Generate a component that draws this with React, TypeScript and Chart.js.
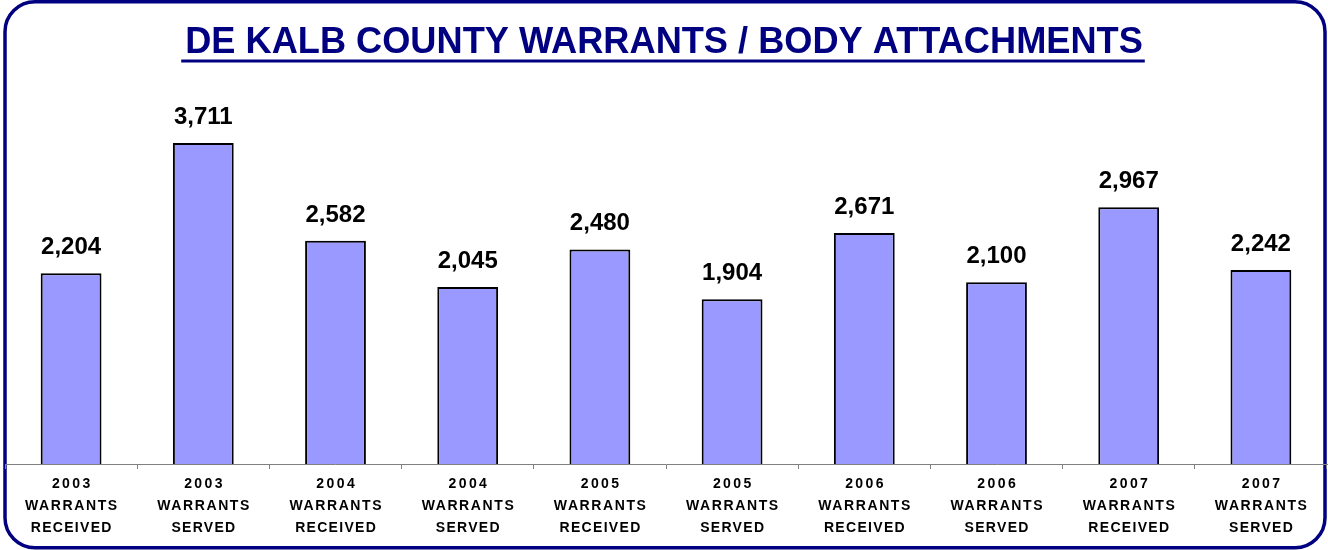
import React, { useEffect, useRef } from "react";
import { Chart, registerables } from "chart.js";

Chart.register(...registerables);

const TITLE = "DE KALB COUNTY WARRANTS / BODY ATTACHMENTS";
const YEARS = ["2003", "2003", "2004", "2004", "2005", "2005", "2006", "2006", "2007", "2007"];
const KINDS = ["RECEIVED", "SERVED", "RECEIVED", "SERVED", "RECEIVED", "SERVED", "RECEIVED", "SERVED", "RECEIVED", "SERVED"];
const VALUES = [2204, 3711, 2582, 2045, 2480, 1904, 2671, 2100, 2967, 2242];
const LABELS = YEARS.map((y, i) => [y, "WARRANTS", KINDS[i]]);

const FONT = "Arial, 'Liberation Sans', sans-serif";
const NAVY = "#000080";

const decor = {
  id: "decor",
  beforeDraw(chart: any) {
    const ctx = chart.ctx;
    ctx.save();
    ctx.fillStyle = "#ffffff";
    ctx.fillRect(0, 0, chart.width, chart.height);
    ctx.strokeStyle = NAVY;
    ctx.lineWidth = 3.5;
    ctx.beginPath();
    ctx.roundRect(5, 1.75, 1320, 546, 30);
    ctx.stroke();
    ctx.restore();
  },
  afterDraw(chart: any) {
    const ctx = chart.ctx;
    const area = chart.chartArea;
    ctx.save();
    // title
    ctx.font = `bold 36.2px ${FONT}`;
    ctx.fillStyle = NAVY;
    ctx.textAlign = "center";
    ctx.textBaseline = "alphabetic";
    const cx = chart.width / 2;
    ctx.fillText(TITLE, cx, 52.5);
    const w = ctx.measureText(TITLE).width;
    ctx.fillRect(cx - w / 2 - 4, 59.5, w + 6, 3);

    // value labels
    ctx.fillStyle = "#000000";
    ctx.font = `bold 24px ${FONT}`;
    const meta = chart.getDatasetMeta(0);
    meta.data.forEach((bar: any, i: number) => {
      ctx.fillText(VALUES[i].toLocaleString("en-US"), bar.x, bar.y - 19);
    });

    // category labels
    const xs = chart.scales.x;
    ctx.font = `bold 14px ${FONT}`;
    const rows = [
      { off: 24, sp: 2.4 },
      { off: 45.5, sp: 1.6 },
      { off: 68, sp: 1.3 },
    ];
    LABELS.forEach((lines, i) => {
      const px = xs.getPixelForValue(i);
      lines.forEach((t, j) => {
        (ctx as any).letterSpacing = `${rows[j].sp}px`;
        ctx.fillText(t, px + rows[j].sp / 2, area.bottom + rows[j].off);
      });
    });
    ctx.restore();
  },
};

export default function App() {
  const ref = useRef<HTMLCanvasElement | null>(null);
  useEffect(() => {
    if (!ref.current) return;
    const chart = new Chart(ref.current, {
      type: "bar",
      data: {
        labels: LABELS,
        datasets: [
          {
            data: VALUES,
            backgroundColor: "#9999FF",
            borderColor: "#000000",
            borderWidth: 2,
            barPercentage: 0.46,
            categoryPercentage: 1,
          },
        ],
      },
      options: {
        responsive: false,
        animation: false,
        devicePixelRatio: 1,
        layout: { padding: { top: 118, left: 5, right: 1, bottom: 81 } },
        plugins: {
          legend: { display: false },
          title: { display: false },
          tooltip: { enabled: false },
        },
        scales: {
          x: {
            grid: {
              display: true,
              drawOnChartArea: false,
              drawTicks: true,
              tickLength: 5,
              color: "#808080",
              offset: true,
            },
            border: { display: true, color: "#808080", width: 1 },
            ticks: { display: false },
          },
          y: { display: false, min: 0, max: 4000 },
        },
      },
      plugins: [decor],
    });
    return () => chart.destroy();
  }, []);
  return (
    <div style={{ position: "absolute", left: 0, top: 0, width: 1328, height: 550 }}>
      <canvas ref={ref} width={1328} height={550} style={{ display: "block" }} />
    </div>
  );
}
